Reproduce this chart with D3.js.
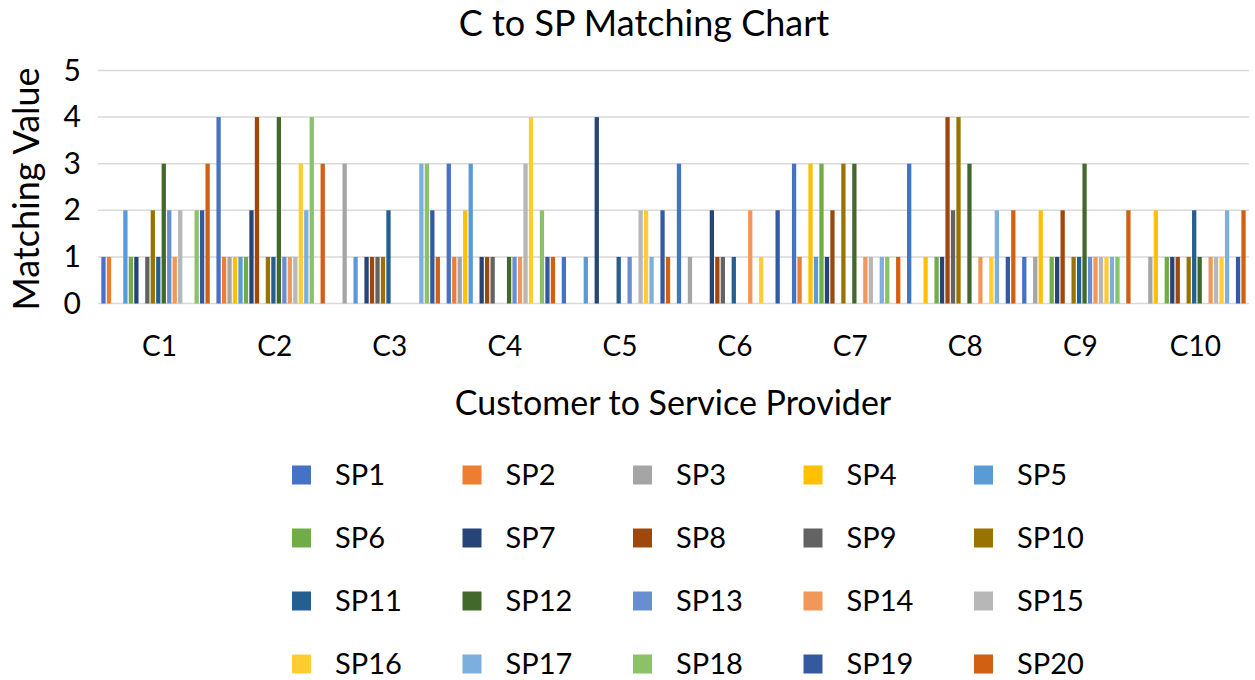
<!DOCTYPE html>
<html>
<head>
<meta charset="utf-8">
<script src="https://cdn.jsdelivr.net/npm/d3@7"></script>
<style>
  body { margin: 0; background: #fff; }
  svg text { font-family: Lato, "Open Sans", sans-serif; fill: #000; }
</style>
</head>
<body>
<svg id="svg1" width="1255" height="680"></svg>
<script>
// data
var customers = ['C1', 'C2', 'C3', 'C4', 'C5', 'C6', 'C7', 'C8', 'C9', 'C10'];
var providers = ['SP1', 'SP2', 'SP3', 'SP4', 'SP5', 'SP6', 'SP7', 'SP8', 'SP9', 'SP10',
                 'SP11', 'SP12', 'SP13', 'SP14', 'SP15', 'SP16', 'SP17', 'SP18', 'SP19', 'SP20'];
var yTicks = [0, 1, 2, 3, 4, 5];

// one row per customer, one value per provider
var c1  = [1, 1, 0, 0, 2, 1, 1, 0, 1, 2, 1, 3, 2, 1, 2, 0, 0, 2, 2, 3];
var c2  = [4, 1, 1, 1, 1, 1, 2, 4, 0, 1, 1, 4, 1, 1, 1, 3, 2, 4, 0, 3];
var c3  = [0, 0, 3, 0, 1, 0, 1, 1, 1, 1, 2, 0, 0, 0, 0, 0, 3, 3, 2, 1];
var c4  = [3, 1, 1, 2, 3, 0, 1, 1, 1, 0, 0, 1, 1, 1, 3, 4, 0, 2, 1, 1];
var c5  = [1, 0, 0, 0, 1, 0, 4, 0, 0, 0, 1, 0, 1, 0, 2, 2, 1, 0, 2, 1];
var c6  = [3, 0, 1, 0, 0, 0, 2, 1, 1, 0, 1, 0, 0, 2, 0, 1, 0, 0, 2, 0];
var c7  = [3, 1, 0, 3, 1, 3, 1, 2, 0, 3, 0, 3, 0, 1, 1, 0, 1, 1, 0, 1];
var c8  = [3, 0, 0, 1, 0, 1, 1, 4, 2, 4, 0, 3, 0, 1, 0, 1, 2, 0, 1, 2];
var c9  = [1, 0, 1, 2, 0, 1, 1, 2, 0, 1, 1, 3, 1, 1, 1, 1, 1, 1, 0, 2];
var c10 = [0, 0, 1, 2, 0, 1, 1, 1, 0, 1, 2, 1, 0, 1, 1, 1, 2, 0, 1, 2];
var values = [c1, c2, c3, c4, c5, c6, c7, c8, c9, c10];

var colors = ['#4472C4', '#ED7D31', '#A5A5A5', '#FFC000', '#5B9BD5', '#70AD47', '#264478',
              '#9E480E', '#636363', '#997300', '#255E91', '#43682B', '#698ED0', '#F1975A',
              '#B7B7B7', '#FFCD33', '#7CAFDD', '#8CC168', '#335AA1', '#D26012'];

var svg = d3.select('#svg1');

var plotLeft = 98, plotRight = 1249, plotTop = 70.5, plotBottom = 303.5;
var font = 'Lato, "Open Sans", sans-serif';

var scaleX = d3.scaleBand().domain(customers).range([plotLeft, plotRight]);
var scaleSP = d3.scaleBand().domain(providers).range([0, scaleX.bandwidth()]).paddingOuter(0.5);
var scaleY = d3.scaleLinear().domain([0, 5]).range([plotBottom, plotTop]);
var color = d3.scaleOrdinal().domain(providers).range(colors);

// gridlines
svg.append('g')
    .selectAll('line')
    .data(yTicks)
    .enter()
    .append('line')
    .attr('x1', plotLeft)
    .attr('x2', plotRight)
    .attr('y1', function(d){ return scaleY(d); })
    .attr('y2', function(d){ return scaleY(d); })
    .attr('stroke', '#d9d9d9')
    .attr('stroke-width', 1.5);

// y axis labels
var yAxis = svg.append('g')
    .attr('transform', 'translate(' + plotLeft + ',0)')
    .call(d3.axisLeft(scaleY).tickValues(yTicks).tickFormat(d3.format('d')).tickSize(0).tickPadding(17));
yAxis.select('.domain').remove();
yAxis.selectAll('text').style('font-size', '30px').style('font-family', font);

// x axis labels
var xAxis = svg.append('g')
    .attr('transform', 'translate(4,' + plotBottom + ')')
    .call(d3.axisBottom(scaleX).tickSize(0).tickPadding(33));
xAxis.select('.domain').remove();
xAxis.selectAll('text').style('font-size', '28px').style('font-family', font);

// bars
var groups = svg.append('g')
    .selectAll('.group')
    .data(customers)
    .enter()
    .append('g')
    .attr('class', 'group')
    .attr('transform', function(d){ return 'translate(' + scaleX(d) + ',0)'; });

groups.selectAll('rect')
    .data(function(d, i){
        return providers.map(function(p, j){ return {sp: p, value: values[i][j]}; });
    })
    .enter()
    .append('rect')
    .attr('x', function(d){ return scaleSP(d.sp) + 0.6; })
    .attr('width', scaleSP.bandwidth() - 1.2)
    .attr('y', function(d){ return scaleY(d.value); })
    .attr('height', function(d){ return scaleY(0) - scaleY(d.value); })
    .attr('fill', function(d){ return color(d.sp); });

// titles
svg.append('text')
    .attr('x', 644)
    .attr('y', 36)
    .attr('text-anchor', 'middle')
    .style('font-size', '36px')
    .text('C to SP Matching Chart');

svg.append('text')
    .attr('x', 673)
    .attr('y', 415)
    .attr('text-anchor', 'middle')
    .style('font-size', '34px')
    .text('Customer to Service Provider');

svg.append('text')
    .attr('transform', 'translate(39,' + ((plotTop + plotBottom) / 2 + 2) + ') rotate(-90)')
    .attr('text-anchor', 'middle')
    .style('font-size', '36px')
    .text('Matching Value');

// legend, 5 per row
var legend = svg.append('g')
    .selectAll('.legend-item')
    .data(providers)
    .enter()
    .append('g')
    .attr('class', 'legend-item')
    .attr('transform', function(d, i){
        return 'translate(' + (292 + (i % 5) * 170.5) + ',' + (475 + Math.floor(i / 5) * 63) + ')';
    });

legend.append('rect')
    .attr('x', 0)
    .attr('y', -9.5)
    .attr('width', 19)
    .attr('height', 19)
    .attr('fill', function(d){ return color(d); });

legend.append('text')
    .attr('x', 43)
    .attr('y', 10)
    .style('font-size', '29px')
    .text(function(d){ return d; });
</script>
</body>
</html>
